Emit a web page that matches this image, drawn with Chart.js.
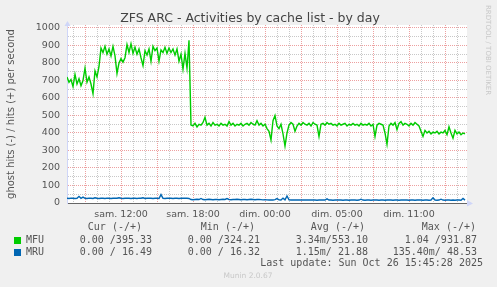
<!DOCTYPE html>
<html>
<head>
<meta charset="utf-8">
<script src="https://cdn.jsdelivr.net/npm/chart.js@4.4.0/dist/chart.umd.min.js"></script>
<style>
    html, body { margin: 0; padding: 0; background: #f0f0f0; }
    #wrap { position: relative; width: 497px; height: 287px; overflow: hidden; font-family: "DejaVu Sans", sans-serif; }
    #wrap canvas { position: absolute; left: 0; top: 0; }
    .t { position: absolute; white-space: pre; line-height: 12px; }
    .mono { font-family: "DejaVu Sans Mono", monospace; font-size: 10px; color: #555; }
    .box { position: absolute; width: 7px; height: 7px; }
</style>
</head>
<body>
<div id="wrap">
    <canvas id="munin-chart" width="497" height="287"></canvas>
</div>
<script>
// hours since sat 00:00, one sample every 10 minutes
const startHour = 7.5;
const stepHour = 1 / 6;
const endHour = 40.8333;

const mfuHits = [
    720, 690, 705, 665, 735, 680, 710, 670, 700, 770,
    690, 720, 680, 625, 755, 720, 780, 885, 860, 895,
    850, 880, 840, 895, 840, 740, 800, 825, 805, 830,
    905, 860, 910, 855, 890, 850, 880, 830, 785, 870,
    845, 880, 810, 895, 870, 885, 810, 875, 860, 890,
    855, 885, 860, 880, 845, 880, 810, 850, 765, 855,
    770, 930, 445, 440, 455, 435, 450, 445, 460, 490,
    445, 455, 440, 460, 445, 450, 440, 455, 445, 450,
    440, 465, 445, 455, 440, 450, 445, 455, 440, 450,
    455, 445, 460, 450, 445, 470, 445, 455, 440, 450,
    425, 410, 360, 470, 500, 440, 425, 450, 395, 325,
    400, 445, 460, 450, 410, 440, 455, 445, 460, 450,
    445, 455, 440, 460, 450, 445, 380, 450, 455, 445,
    460, 450, 455, 445, 450, 440, 455, 445, 450, 455,
    440, 450, 445, 455, 445, 450, 440, 455, 445, 450,
    445, 455, 440, 450, 380, 445, 455, 450, 445, 400,
    335, 440, 455, 445, 460, 420, 455, 465, 445, 455,
    450, 440, 455, 445, 460, 450, 440, 410, 380, 415,
    400, 410, 395, 405, 400, 410, 395, 405, 400, 415,
    390, 435, 400, 370, 415, 395, 405, 390, 400, 395
];

const mruHits = [
    27, 26, 28, 27, 26, 27, 38, 27, 34, 27,
    26, 28, 27, 26, 30, 27, 26, 27, 27, 26,
    28, 27, 26, 27, 27, 27, 30, 27, 26, 27,
    28, 27, 26, 27, 27, 26, 28, 27, 30, 26,
    27, 28, 27, 26, 27, 27, 26, 48, 27, 26,
    27, 28, 27, 26, 27, 27, 26, 27, 28, 27,
    27, 26, 20, 19, 20, 21, 20, 26, 20, 19,
    20, 21, 20, 19, 20, 20, 19, 20, 21, 20,
    25, 20, 19, 20, 20, 21, 20, 19, 20, 20,
    19, 20, 21, 20, 19, 20, 20, 19, 18, 19,
    18, 17, 18, 17, 19, 25, 18, 17, 28, 18,
    40, 18, 17, 18, 17, 17, 18, 17, 17, 18,
    17, 17, 18, 17, 17, 16, 17, 17, 18, 17,
    24, 17, 17, 16, 17, 17, 18, 17, 16, 17,
    17, 16, 17, 18, 17, 16, 17, 22, 17, 16,
    17, 17, 16, 17, 18, 17, 16, 17, 17, 16,
    17, 18, 17, 16, 17, 17, 16, 17, 17, 18,
    17, 16, 17, 17, 16, 17, 18, 17, 16, 17,
    17, 16, 17, 30, 17, 16, 17, 22, 17, 16,
    17, 17, 16, 17, 16, 17, 17, 16, 26, 16.5
];

// local time jumps back one hour during the night (DST end)
const tickHours = [12, 18, 24, 30, 36];
const tickLabels = ['sam. 12:00', 'sam. 18:00', 'dim. 00:00', 'dim. 05:00', 'dim. 11:00'];
const yMax = 1017;
const yTickStep = 50;

const seriesNames = ['MFU', 'MRU'];
const seriesColors = ['#00cc00', '#0066b3'];
const curValues = ['0.00 /395.33', '0.00 / 16.49'];
const minValues = ['0.00 /324.21', '0.00 / 16.32'];
const avgValues = ['3.34m/553.10', '1.15m/ 21.88'];
const maxValues = ['1.04 /931.87', '135.40m/ 48.53'];

const wrap = document.getElementById('wrap');

function addText(text, x, y, cls, align, style) {
    const el = document.createElement('div');
    el.className = 't ' + (cls || '');
    el.textContent = text;
    if (align === 'right') el.style.right = (497 - x) + 'px';
    else if (align === 'center') { el.style.left = (x - 200) + 'px'; el.style.width = '400px'; el.style.textAlign = 'center'; }
    else el.style.left = x + 'px';
    el.style.top = (y - 6) + 'px';
    Object.assign(el.style, style || {});
    wrap.appendChild(el);
    return el;
}

addText('ZFS ARC - Activities by cache list - by day', 250, 18, '', 'center',
    { fontSize: '12.5px', color: '#444', lineHeight: '14px', top: '11px' });

addText('RRDTOOL / TOBI OETIKER', 483, 0, '', 'left',
    { fontSize: '7px', color: '#c8c8c8', writingMode: 'vertical-rl', top: '5px', lineHeight: '9px' });

const colRight = [142, 255, 365, 476];
['Cur (-/+)', 'Min (-/+)', 'Avg (-/+)', 'Max (-/+)'].forEach((h, i) => addText(h, colRight[i], 227, 'mono', 'right'));

const valueRight = [152, 260, 368, 477];
seriesNames.forEach((name, s) => {
    const y = 240 + s * 12;
    const box = document.createElement('div');
    box.className = 'box';
    box.style.left = '14px';
    box.style.top = (y - 3) + 'px';
    box.style.background = seriesColors[s];
    wrap.appendChild(box);
    addText(name, 26, y, 'mono', 'left');
    [curValues, minValues, avgValues, maxValues].forEach((col, c) => addText(col[s], valueRight[c], y, 'mono', 'right'));
});
addText('Last update: Sun Oct 26 15:45:28 2025', 483, 263, 'mono', 'right');
addText('Munin 2.0.67', 248, 276, '', 'center', { fontSize: '7.5px', color: '#c8c8c8' });

function toPoints(values) {
    return values.map((v, i) => ({ x: startHour + i * stepHour, y: v }));
}

const canvasPlugin = {
    id: 'muninCanvas',
    beforeDraw(chart) {
        const { ctx, chartArea: a } = chart;
        ctx.save();
        ctx.fillStyle = '#ffffff';
        ctx.fillRect(a.left, a.top, a.right - a.left, a.bottom - a.top);
        ctx.restore();
    },
    afterDraw(chart) {
        const { ctx, chartArea: a } = chart;
        ctx.save();
        ctx.fillStyle = '#cfd6f8';
        ctx.beginPath();
        ctx.moveTo(a.left - 2.5, a.top + 1);
        ctx.lineTo(a.left + 3.5, a.top + 1);
        ctx.lineTo(a.left + 0.5, a.top - 4);
        ctx.closePath();
        ctx.fill();
        ctx.beginPath();
        ctx.moveTo(a.right, a.bottom - 3);
        ctx.lineTo(a.right, a.bottom + 3.5);
        ctx.lineTo(a.right + 6, a.bottom + 0.5);
        ctx.closePath();
        ctx.fill();
        ctx.restore();
    }
};

const majorGrid = '#eda0a0';
const minorGrid = '#c8c8c8';

new Chart(document.getElementById('munin-chart'), {
    type: 'line',
    data: {
        datasets: [
            { label: seriesNames[0], data: toPoints(mfuHits), borderColor: seriesColors[0], borderWidth: 1.4 },
            { label: seriesNames[1], data: toPoints(mruHits), borderColor: seriesColors[1], borderWidth: 1.4 }
        ]
    },
    options: {
        responsive: false,
        animation: false,
        events: [],
        elements: { point: { radius: 0 }, line: { tension: 0 } },
        layout: { padding: { top: 25, right: 30, left: 0, bottom: 0 } },
        plugins: { legend: { display: false }, tooltip: { enabled: false }, title: { display: false } },
        scales: {
            x: {
                type: 'linear',
                min: startHour,
                max: endHour,
                afterFit(scale) { scale.height = 84; },
                afterBuildTicks(scale) {
                    const ticks = [];
                    for (let h = Math.ceil(startHour); h <= endHour; h++) ticks.push({ value: h });
                    scale.ticks = ticks;
                },
                ticks: {
                    autoSkip: false,
                    maxRotation: 0,
                    padding: 6,
                    color: '#555',
                    font: { family: 'DejaVu Sans', size: 9.5 },
                    callback: (v) => {
                        const k = tickHours.indexOf(v);
                        return k >= 0 ? tickLabels[k] : '';
                    }
                },
                grid: {
                    drawTicks: false,
                    lineWidth: 1,
                    color: (ctx) => (ctx.tick && ctx.tick.value % 3 === 0 ? majorGrid : minorGrid)
                },
                border: { display: true, color: '#666', width: 1, dash: [1, 1] }
            },
            y: {
                min: 0,
                max: yMax,
                afterFit(scale) { scale.width = 67; },
                afterBuildTicks(scale) {
                    const ticks = [];
                    for (let v = 0; v <= yMax; v += yTickStep) ticks.push({ value: v });
                    scale.ticks = ticks;
                },
                ticks: {
                    autoSkip: false,
                    padding: 7,
                    color: '#555',
                    font: { family: 'DejaVu Sans', size: 9.5 },
                    callback: (v) => (v % 100 === 0 ? String(v) : '')
                },
                grid: {
                    drawTicks: false,
                    lineWidth: 1,
                    color: (ctx) => {
                        if (!ctx.tick || ctx.tick.value === 0) return 'rgba(0,0,0,0)';
                        return ctx.tick.value % 100 === 0 ? majorGrid : minorGrid;
                    }
                },
                border: { display: true, color: '#cfd6f8', width: 1, dash: [1, 1] },
                title: {
                    display: true,
                    text: 'ghost hits (-) / hits (+) per second',
                    color: '#555',
                    font: { family: 'DejaVu Sans', size: 10 },
                    padding: { top: 5, bottom: 0 }
                }
            }
        }
    },
    plugins: [canvasPlugin]
});
</script>
</body>
</html>
